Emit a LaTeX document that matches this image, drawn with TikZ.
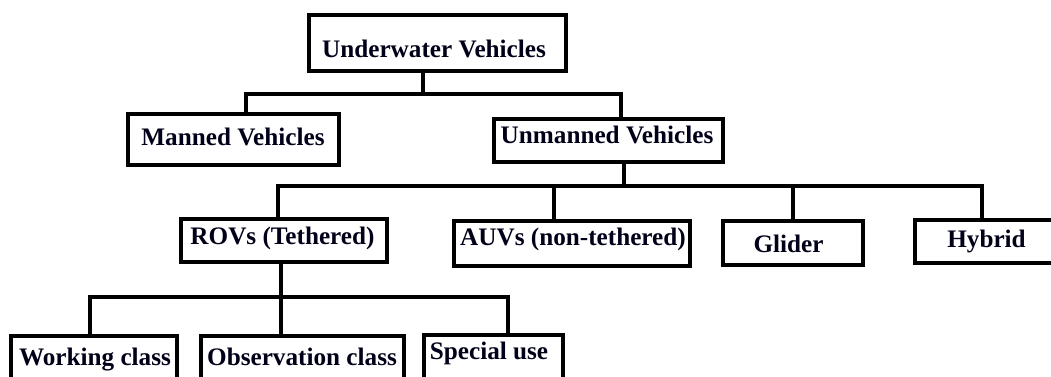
\documentclass[tikz,border=0pt]{standalone}
\usepackage{fontspec}
\setmainfont{Liberation Serif}
\begin{document}
\begin{tikzpicture}[x=1pt,y=-1pt,
  box/.style={draw=black,line width=3.5pt,fill=white,inner sep=0pt,outer sep=0pt,anchor=north west},
  lbl/.style={inner sep=0pt,anchor=base,font=\fontsize{25.2}{30}\selectfont\bfseries,text=black!90!blue},
  conn/.style={draw=black,line width=3.5pt}]
\useasboundingbox (0,0) rectangle (1051,376);
% boxes
\node[box,minimum width=257pt,minimum height=56pt] (root) at (309,15) {};
\node[box,minimum width=211pt,minimum height=51pt] (manned) at (128,114) {};
\node[box,minimum width=229pt,minimum height=43pt] (unmanned) at (494,119) {};
\node[box,minimum width=206pt,minimum height=43pt] (rov) at (181,219) {};
\node[box,minimum width=236pt,minimum height=45pt] (auv) at (454,221) {};
\node[box,minimum width=140pt,minimum height=44pt] (glider) at (723,221) {};
\node[box,minimum width=150pt,minimum height=43pt] (hybrid) at (915,220) {};
\node[box,minimum width=166pt,minimum height=70pt] (working) at (11,336) {};
\node[box,minimum width=203pt,minimum height=70pt] (observation) at (201,336) {};
\node[box,minimum width=139pt,minimum height=70pt] (special) at (424,335) {};
% labels
\node[lbl] (t-root) at (434,57) {Underwater Vehicles};
\node[lbl] (t-manned) at (233,145) {Manned Vehicles};
\node[lbl] (t-unmanned) at (607,143) {Unmanned Vehicles};
\node[lbl] (t-rov) at (282.5,244) {ROVs (Tethered)};
\node[lbl] (t-auv) at (573,245) {AUVs (non-tethered)};
\node[lbl] (t-glider) at (788.5,252) {Glider};
\node[lbl] (t-hybrid) at (986.5,247) {Hybrid};
\node[lbl] (t-working) at (95,365) {Working class};
\node[lbl] (t-observation) at (302,365) {Observation class};
\node[lbl] (t-special) at (489,359) {Special use};
% junction coordinates
\coordinate (a1) at (423,94);
\coordinate (a2) at (246,94);
\coordinate (a3) at (621,94);
\coordinate (b1) at (624,186);
\coordinate (b2) at (278,186);
\coordinate (b3) at (554,186);
\coordinate (b4) at (793,186);
\coordinate (b5) at (982,186);
\coordinate (c1) at (281,297);
\coordinate (c2) at (90,297);
\coordinate (c3) at (508,297);
% connectors
\draw[conn] (a1 |- root.south) -- (a1);
\draw[conn] (a2 |- manned.north) |- (a3) -- (a3 |- unmanned.north);
\draw[conn] (b1 |- unmanned.south) -- (b1);
\draw[conn] (b2 |- rov.north) |- (b5) -- (b5 |- hybrid.north);
\draw[conn] (b3) -- (b3 |- auv.north);
\draw[conn] (b4) -- (b4 |- glider.north);
\draw[conn] (c1 |- rov.south) -- (c1 |- observation.north);
\draw[conn] (c2 |- working.north) |- (c3) -- (c3 |- special.north);
\end{tikzpicture}
\end{document}
